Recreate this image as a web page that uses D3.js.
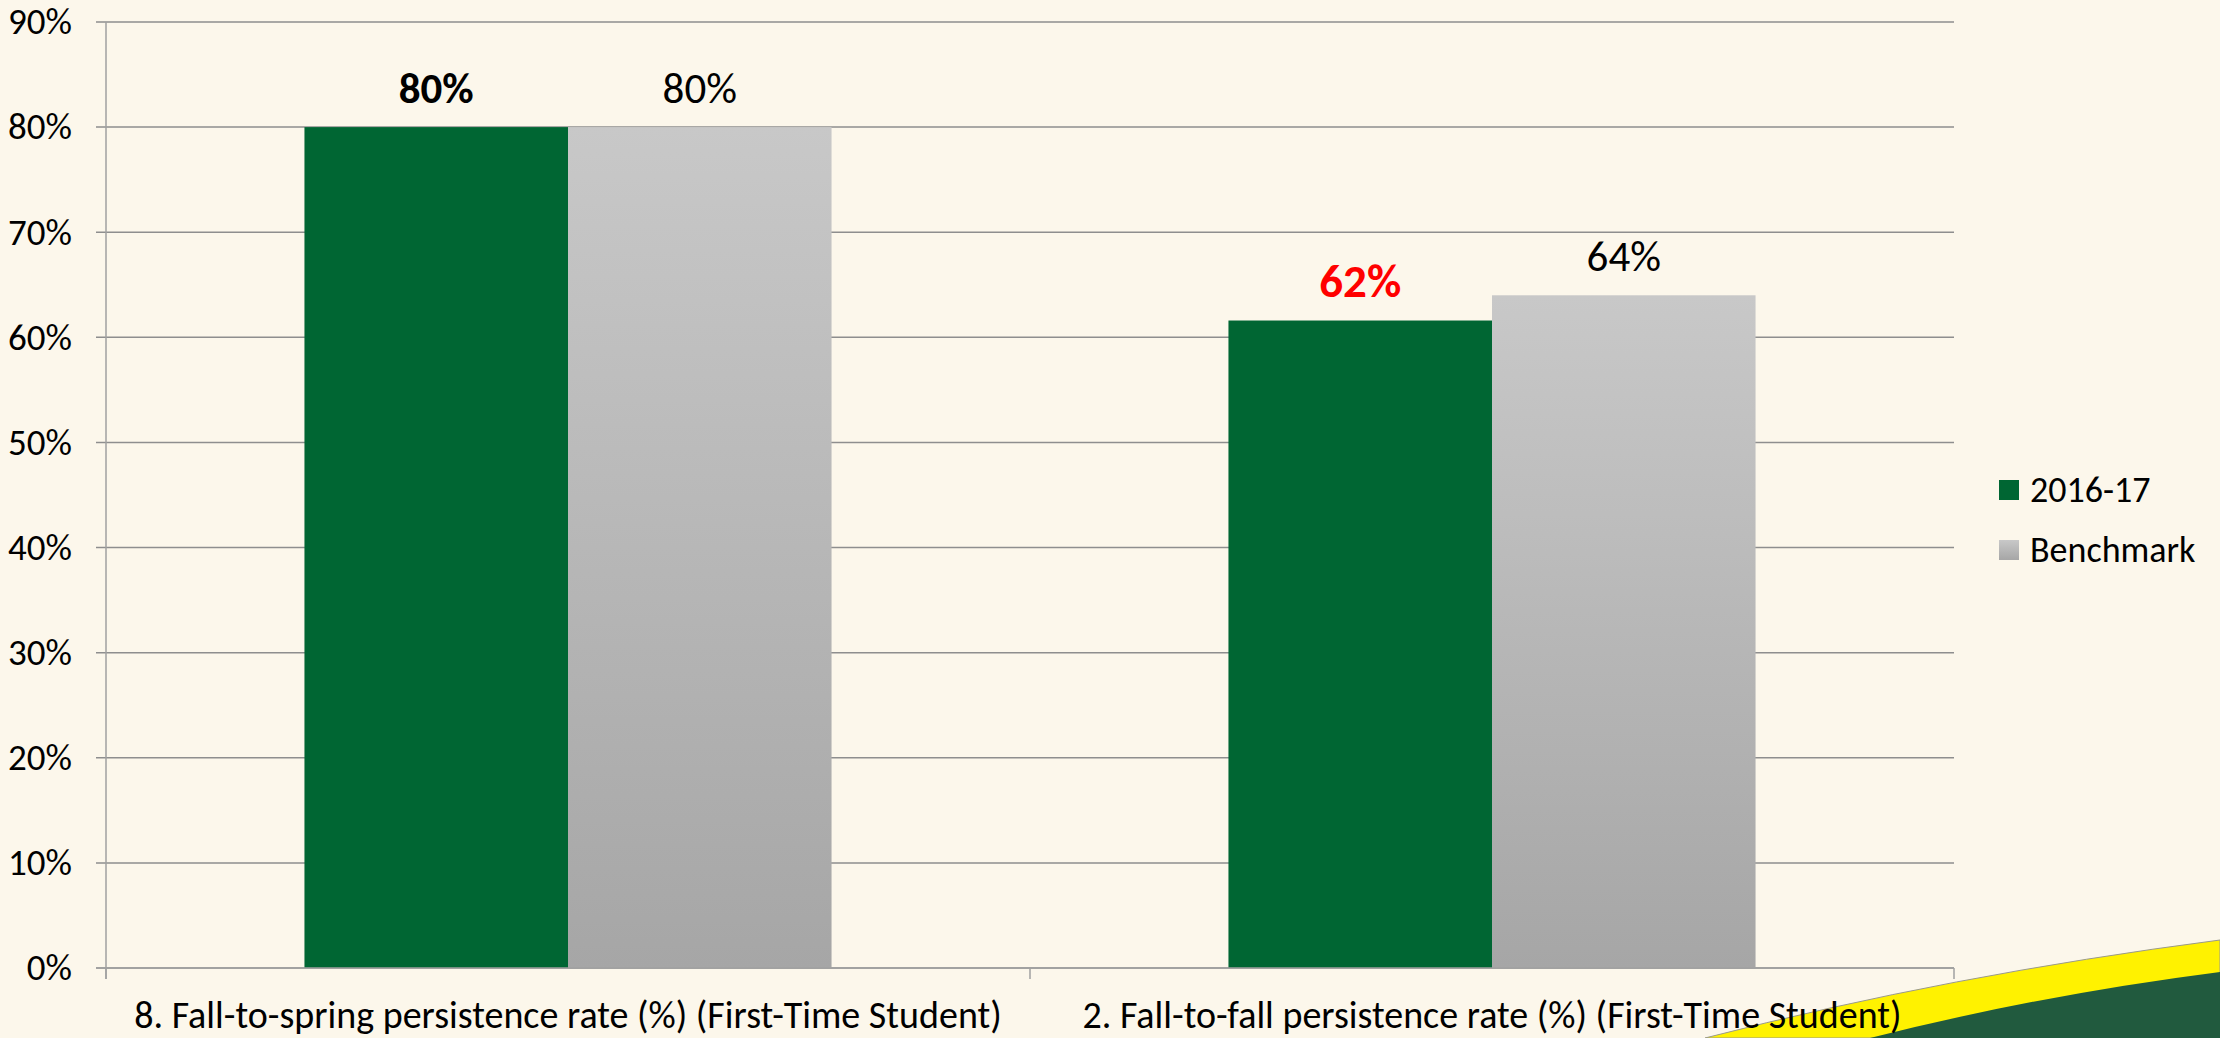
<!DOCTYPE html>
<html>
<head>
<meta charset="utf-8">
<script src="https://cdn.jsdelivr.net/npm/d3@7"></script>
<style>
  html, body { margin: 0; padding: 0; background: #fcf7eb; }
  svg { display: block; font-family: Carlito, Lato, "Open Sans", sans-serif; }
</style>
</head>
<body>
<div id="chart"></div>
<script>
var w = 2220;
var h = 1038;

// data
var categories = ["8. Fall-to-spring persistence rate (%) (First-Time Student)",
                  "2. Fall-to-fall persistence rate (%) (First-Time Student)"];
var seriesNames = ["2016-17", "Benchmark"];
var values2016 = [80, 61.6];
var valuesBench = [80, 64];
var labels2016 = ["80%", "62%"];
var labelsBench = ["80%", "64%"];
var yTicks = [0, 10, 20, 30, 40, 50, 60, 70, 80, 90];

var plotLeft = 106, plotRight = 1954, plotTop = 22, plotBottom = 968;

var svg = d3.select("#chart")
            .append("svg")
            .attr("width", w)
            .attr("height", h);

// background + corner decoration
svg.append("rect").attr("width", w).attr("height", h).attr("fill", "#fcf7eb");
svg.append("path")
   .attr("d", "M1705,1038 Q1950,975 2220,940 L2220,1038 Z")
   .attr("fill", "#fff200")
   .attr("stroke", "#9a9a8a").attr("stroke-width", 1);
svg.append("path")
   .attr("d", "M1870,1038 Q2040,995 2220,972 L2220,1038 Z")
   .attr("fill", "#215a3e");

var defs = svg.append("defs");
var grad = defs.append("linearGradient")
    .attr("id", "grayGrad")
    .attr("x1", 0).attr("y1", 0).attr("x2", 0).attr("y2", 1);
grad.append("stop").attr("offset", "0%").attr("stop-color", "#c8c8c8");
grad.append("stop").attr("offset", "100%").attr("stop-color", "#a6a6a6");

var x0 = d3.scaleBand()
    .domain(d3.range(categories.length))
    .range([plotLeft, plotRight])
    .paddingInner(0)
    .paddingOuter(0);

var x1 = d3.scaleBand()
    .domain(d3.range(seriesNames.length))
    .range([0, x0.bandwidth()])
    .paddingInner(0)
    .paddingOuter(0.753);

var y = d3.scaleLinear()
    .domain([0, 90])
    .range([plotBottom, plotTop]);

// gridlines
svg.append("g").selectAll("line")
   .data(yTicks)
   .enter().append("line")
   .attr("x1", plotLeft - 10).attr("x2", plotRight)
   .attr("y1", function (d) { return y(d); })
   .attr("y2", function (d) { return y(d); })
   .attr("stroke", "#8e8e8e")
   .attr("stroke-width", 1.5);

// y axis
var yAxis = d3.axisLeft(y)
    .tickValues(yTicks)
    .tickSize(0)
    .tickPadding(34)
    .tickFormat(function (d) { return d + "%"; });

var gy = svg.append("g")
   .attr("transform", "translate(" + plotLeft + ",0)")
   .call(yAxis);
gy.select(".domain").remove();
gy.selectAll("text")
   .attr("font-size", 37)
   .attr("font-family", "Carlito, Lato, sans-serif")
   .attr("fill", "#000");

svg.append("line")
   .attr("x1", plotLeft).attr("x2", plotLeft)
   .attr("y1", plotTop).attr("y2", plotBottom + 11)
   .attr("stroke", "#a0a0a0").attr("stroke-width", 1.5);

// bars
var seriesData = [values2016, valuesBench];
var fills = ["#006633", "url(#grayGrad)"];

var groups = svg.append("g").selectAll("g")
   .data(categories)
   .enter().append("g")
   .attr("transform", function (d, i) { return "translate(" + x0(i) + ",0)"; });

groups.selectAll("rect")
   .data(function (d, i) { return seriesData.map(function (s, j) { return { s: j, v: s[i] }; }); })
   .enter().append("rect")
   .attr("x", function (d) { return x1(d.s); })
   .attr("y", function (d) { return y(d.v); })
   .attr("width", x1.bandwidth())
   .attr("height", function (d) { return plotBottom - y(d.v); })
   .attr("fill", function (d) { return fills[d.s]; });

// data labels
var labelStyle = [
  [{ weight: "bold", fill: "#000", size: 43 }, { weight: "normal", fill: "#000", size: 43 }],
  [{ weight: "bold", fill: "#ff0000", size: 47 }, { weight: "normal", fill: "#000", size: 43 }]
];
var labelData = [labels2016, labelsBench];

groups.selectAll("text.lbl")
   .data(function (d, i) {
       return seriesData.map(function (s, j) {
           return { s: j, v: s[i], t: labelData[j][i], st: labelStyle[i][j] };
       });
   })
   .enter().append("text")
   .attr("class", "lbl")
   .attr("x", function (d) { return x1(d.s) + x1.bandwidth() / 2; })
   .attr("y", function (d) { return y(d.v) - 24; })
   .attr("text-anchor", "middle")
   .attr("font-size", function (d) { return d.st.size; })
   .attr("font-weight", function (d) { return d.st.weight; })
   .attr("fill", function (d) { return d.st.fill; })
   .text(function (d) { return d.t; });

// x axis
var xAxis = d3.axisBottom(x0)
    .tickSize(0)
    .tickPadding(0)
    .tickFormat(function (i) { return categories[i]; });

var gx = svg.append("g")
   .attr("transform", "translate(0," + plotBottom + ")")
   .call(xAxis);
gx.select(".domain").remove();
gx.selectAll("text")
   .attr("y", 60)
   .attr("dy", 0)
   .attr("font-size", 38)
   .attr("font-family", "Carlito, Lato, sans-serif")
   .attr("fill", "#000");

svg.append("line")
   .attr("x1", plotLeft - 10).attr("x2", plotRight)
   .attr("y1", plotBottom).attr("y2", plotBottom)
   .attr("stroke", "#a0a0a0").attr("stroke-width", 1.5);

svg.append("g").selectAll("line")
   .data(d3.range(categories.length + 1))
   .enter().append("line")
   .attr("x1", function (i) { return i < categories.length ? x0(i) : plotRight; })
   .attr("x2", function (i) { return i < categories.length ? x0(i) : plotRight; })
   .attr("y1", plotBottom).attr("y2", plotBottom + 11)
   .attr("stroke", "#a0a0a0").attr("stroke-width", 1.5);

// legend
var legend = svg.append("g").selectAll("g")
   .data(seriesNames)
   .enter().append("g")
   .attr("transform", function (d, i) { return "translate(1999," + (480 + i * 60) + ")"; });

legend.append("rect")
   .attr("width", 20).attr("height", 20)
   .attr("fill", function (d, i) { return fills[i]; });

legend.append("text")
   .attr("x", 31).attr("y", 22)
   .attr("font-size", 36)
   .attr("fill", "#000")
   .text(function (d) { return d; });
</script>
</body>
</html>
